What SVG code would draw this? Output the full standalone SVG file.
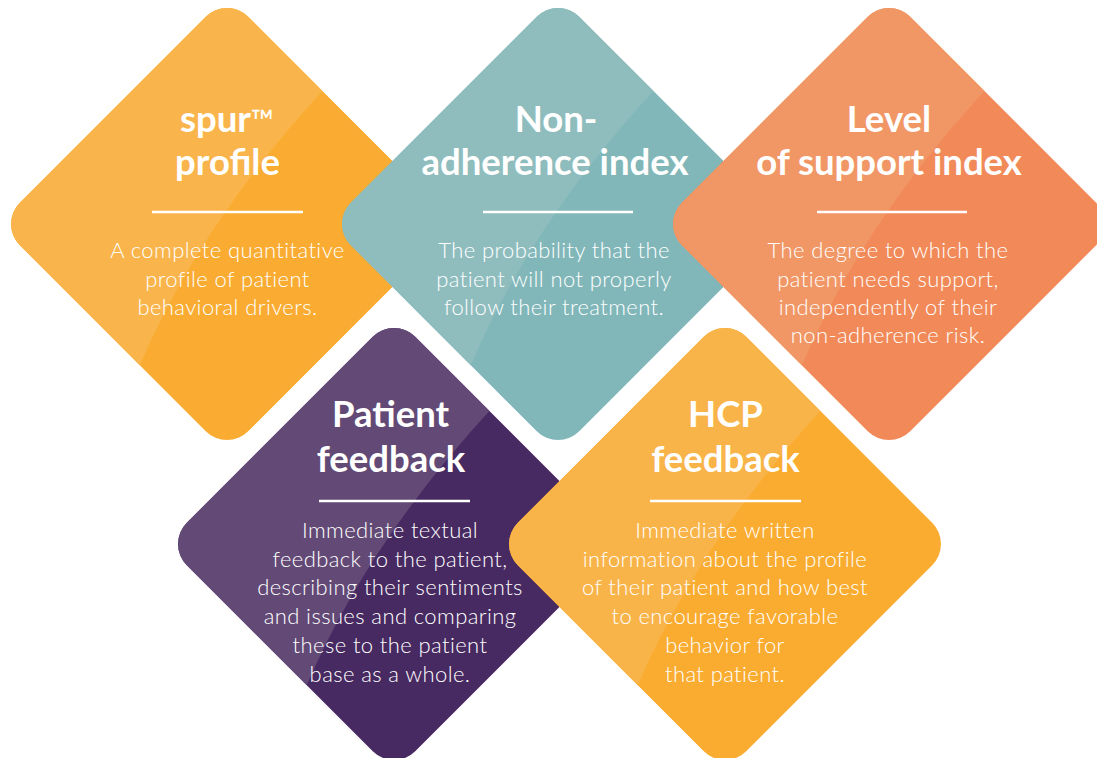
<svg xmlns="http://www.w3.org/2000/svg" xmlns:xlink="http://www.w3.org/1999/xlink" width="1097" height="758" viewBox="0 0 1097 758">
  <style>
    .title { font-family: Lato, "Open Sans", "Liberation Sans", sans-serif; font-weight: 700; font-size: 36.5px; fill: #ffffff; text-anchor: middle; }
    .body { font-family: Lato, "Open Sans", "Liberation Sans", sans-serif; font-weight: 300; font-size: 22px; letter-spacing: 0.4px; fill: #ffffff; text-anchor: middle; }
    .rule { stroke: #ffffff; stroke-width: 2.5; }
  </style>
  <defs>
    <rect id="dia" x="-161.5" y="-161.5" width="323" height="323" rx="30" ry="30" transform="rotate(45)"/>
    <path id="sheen" d="M100,-138 Q-26,-2.5 -88,143 L-300,143 L-300,-300 L100,-300 Z"/>
    <clipPath id="diaClip" clipPathUnits="userSpaceOnUse">
      <use xlink:href="#dia"/>
    </clipPath>
  </defs>
  <rect width="1097" height="758" fill="#ffffff"/>

  <g id="node-spur">
    <g transform="translate(227,224)">
      <use xlink:href="#dia" fill="#F9AC31"/>
      <use xlink:href="#sheen" fill="#F9B54B" clip-path="url(#diaClip)"/>
    </g>
    <text class="title" x="227" y="132">spur<tspan font-size="31" font-weight="400">™</tspan></text>
    <text class="title" x="227.5" y="175">profile</text>
    <line class="rule" x1="152" y1="212" x2="303" y2="212"/>
    <text class="body" x="227.5" y="258">A complete quantitative</text>
    <text class="body" x="227.5" y="287">profile of patient</text>
    <text class="body" x="227.5" y="315">behavioral drivers.</text>
  </g>

  <g id="node-nonadherence">
    <g transform="translate(558,224)">
      <use xlink:href="#dia" fill="#81B7B9"/>
      <use xlink:href="#sheen" fill="#8FBDBE" clip-path="url(#diaClip)"/>
    </g>
    <text class="title" x="556" y="132">Non-</text>
    <text class="title" x="555" y="175">adherence index</text>
    <line class="rule" x1="483" y1="212" x2="633" y2="212"/>
    <text class="body" x="554" y="258">The probability that the</text>
    <text class="body" x="554" y="287">patient will not properly</text>
    <text class="body" x="554" y="315">follow their treatment.</text>
  </g>

  <g id="node-support">
    <g transform="translate(889,224)">
      <use xlink:href="#dia" fill="#F18A58"/>
      <use xlink:href="#sheen" fill="#F19766" clip-path="url(#diaClip)"/>
    </g>
    <text class="title" x="889" y="132">Level</text>
    <text class="title" x="889" y="175">of support index</text>
    <line class="rule" x1="817" y1="212" x2="967" y2="212"/>
    <text class="body" x="888" y="258">The degree to which the</text>
    <text class="body" x="888" y="287">patient needs support,</text>
    <text class="body" x="888" y="315">independently of their</text>
    <text class="body" x="888" y="343">non-adherence risk.</text>
  </g>

  <g id="node-patient">
    <g transform="translate(394,544)">
      <use xlink:href="#dia" fill="#472A61"/>
      <use xlink:href="#sheen" fill="#634A76" clip-path="url(#diaClip)"/>
    </g>
    <text class="title" x="390.5" y="427">Patient</text>
    <text class="title" x="391" y="472">feedback</text>
    <line class="rule" x1="319" y1="501" x2="470" y2="501"/>
    <text class="body" x="390" y="538">Immediate textual</text>
    <text class="body" x="390" y="567">feedback to the patient,</text>
    <text class="body" x="390" y="595">describing their sentiments</text>
    <text class="body" x="390" y="624">and issues and comparing</text>
    <text class="body" x="390" y="653">these to the patient</text>
    <text class="body" x="390" y="682">base as a whole.</text>
  </g>

  <g id="node-hcp">
    <g transform="translate(725,544)">
      <use xlink:href="#dia" fill="#F9AC30"/>
      <use xlink:href="#sheen" fill="#F9B449" clip-path="url(#diaClip)"/>
    </g>
    <text class="title" x="725.5" y="427">HCP</text>
    <text class="title" x="725.5" y="472">feedback</text>
    <line class="rule" x1="650" y1="501" x2="801" y2="501"/>
    <text class="body" x="725" y="538">Immediate written</text>
    <text class="body" x="725" y="567">information about the profile</text>
    <text class="body" x="725" y="595">of their patient and how best</text>
    <text class="body" x="725" y="624">to encourage favorable</text>
    <text class="body" x="725" y="653">behavior for</text>
    <text class="body" x="725" y="682">that patient.</text>
  </g>

  <g id="connectors"/>
</svg>
